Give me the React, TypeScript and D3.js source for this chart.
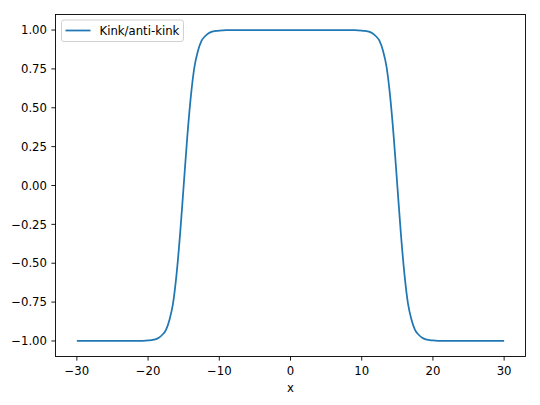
import React from "react";
import * as d3 from "d3";

// samples
const xValues = [
  -30, -27, -24, -22, -21, -20, -19.5, -19, -18.5, -18, -17.5, -17, -16.5, -16, -15.5,
  -15, -14.5, -14, -13.5, -13, -12.5, -12, -11.5, -11, -10.5, -10, -9, -6, -3, 0,
  3, 6, 9, 10, 10.5, 11, 11.5, 12, 12.5, 13, 13.5, 14, 14.5, 15, 15.5, 16, 16.5,
  17, 17.5, 18, 18.5, 19, 19.5, 20, 21, 22, 24, 27, 30,
];
const yValues = [
  -1, -1, -1, -1, -0.999, -0.997, -0.994, -0.99, -0.98, -0.96, -0.93, -0.865, -0.76, -0.57, -0.31,
  0, 0.31, 0.57, 0.76, 0.865, 0.93, 0.96, 0.98, 0.99, 0.994, 0.997, 0.999, 1, 1, 1,
  1, 1, 0.999, 0.997, 0.994, 0.99, 0.98, 0.96, 0.93, 0.865, 0.76, 0.57, 0.31, 0, -0.31, -0.57, -0.76,
  -0.865, -0.93, -0.96, -0.98, -0.99, -0.994, -0.997, -0.999, -1, -1, -1, -1,
];
const xTicks = [-30, -20, -10, 0, 10, 20, 30];
const yTicks = [-1, -0.75, -0.5, -0.25, 0, 0.25, 0.5, 0.75, 1];
const seriesName = "Kink/anti-kink";
const xLabel = "x";

const W = 540;
const H = 405;
const margin = { left: 55.5, right: 14.5, top: 14.5, bottom: 48.5 };
const font = "DejaVu Sans, sans-serif";
const fs = 11.7;

const fmt = (v: number) => {
  const s = Math.abs(v).toFixed(2);
  return (v < 0 ? "\u2212" : "") + s;
};
const fmtX = (v: number) => (v < 0 ? "\u2212" : "") + Math.abs(v);

export default function App() {
  const x = d3.scaleLinear().domain([-33, 33]).range([margin.left, W - margin.right]);
  const y = d3.scaleLinear().domain([-1.1, 1.1]).range([H - margin.bottom, margin.top]);
  const pts: [number, number][] = xValues.map((v, i) => [v, yValues[i]]);
  const line = d3
    .line<[number, number]>()
    .x((d) => x(d[0]))
    .y((d) => y(d[1]))
    .curve(d3.curveMonotoneX);

  const left = margin.left;
  const right = W - margin.right;
  const top = margin.top;
  const bottom = H - margin.bottom;

  return (
    <svg
      width={W}
      height={H}
      style={{ position: "absolute", left: 0, top: 0, background: "#fff" }}
      fontFamily={font}
      fontSize={fs}
    >
      <rect x={0} y={0} width={W} height={H} fill="#fff" />
      <path d={line(pts) || ""} fill="none" stroke="#1f77b4" strokeWidth={1.75} />
      {/* spines */}
      <rect x={left} y={top} width={right - left} height={bottom - top} fill="none" stroke="#000" strokeWidth={0.9} />
      {/* x ticks */}
      {xTicks.map((t) => (
        <g key={"x" + t}>
          <line x1={x(t)} x2={x(t)} y1={bottom} y2={bottom + 4.1} stroke="#000" strokeWidth={0.9} />
          <text x={x(t)} y={bottom + 18} textAnchor="middle" fill="#000">
            {fmtX(t)}
          </text>
        </g>
      ))}
      {/* y ticks */}
      {yTicks.map((t) => (
        <g key={"y" + t}>
          <line x1={left - 4.1} x2={left} y1={y(t)} y2={y(t)} stroke="#000" strokeWidth={0.9} />
          <text x={left - 8.5} y={y(t)} dy="0.36em" textAnchor="end" fill="#000">
            {fmt(t)}
          </text>
        </g>
      ))}
      <text x={(left + right) / 2} y={bottom + 35} textAnchor="middle" fill="#000">
        {xLabel}
      </text>
      {/* legend */}
      <g>
        <rect x={61.5} y={20} width={122} height={21.5} rx={2.5} fill="#fff" fillOpacity={0.8} stroke="#cccccc" strokeWidth={0.9} />
        <line x1={65.5} x2={90.5} y1={30.5} y2={30.5} stroke="#1f77b4" strokeWidth={1.75} />
        <text x={99.5} y={30.5} dy="0.36em" fill="#000">
          {seriesName}
        </text>
      </g>
    </svg>
  );
}
